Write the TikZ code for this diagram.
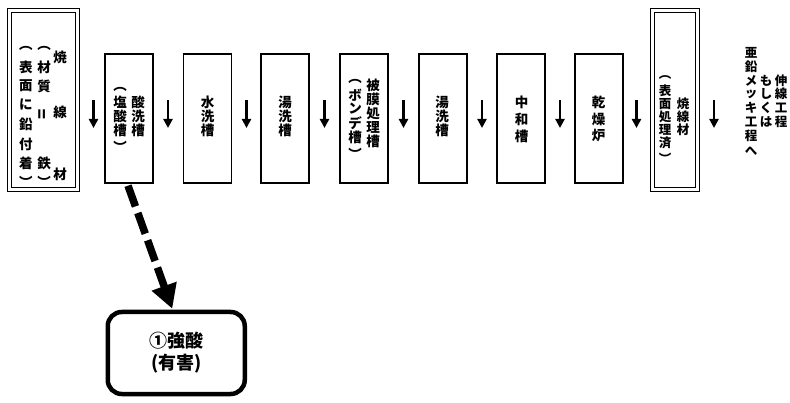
\documentclass[tikz,border=0pt]{standalone}
\usepackage{fontspec}
\setmainfont{Noto Sans CJK JP}
\usetikzlibrary{arrows.meta,calc}
\tikzset{
  ch/.style={inner sep=0pt, font=\bfseries\fontsize{13.5}{13.5}\selectfont},
  chs/.style={inner sep=0pt, font=\bfseries\fontsize{12.5}{12.5}\selectfont},
  tank/.style={draw, line width=1.4pt, minimum width=48pt, minimum height=129pt, inner sep=0pt},
  endbox/.style={draw, double, double distance=2.4pt, line width=1.2pt, inner sep=0pt},
  downarr/.style={line width=2.6pt, -{Triangle[width=9pt,length=9pt]}},
  bigarr/.style={line width=7.5pt, dash pattern=on 22pt off 7pt, -{Triangle[width=25pt,length=24pt]}},
  harmbox/.style={draw, line width=4.5pt, rounded corners=14pt, minimum width=137pt, minimum height=82pt,
    align=center, font=\bfseries\fontsize{18}{22}\selectfont},
}
\newcommand{\vcol}[4][ch]{\foreach \c/\yy [count=\i] in {#4} {\node[#1] (#2\i) at (#3,\yy) {\c};}}
\begin{document}
\begin{tikzpicture}[x=1pt,y=-1pt]
\useasboundingbox (0,0) rectangle (790,403);
% start box
\node[endbox, minimum width=68pt, minimum height=179pt] (start) at (43.5,100) {};
\vcol{sa}{26}{︵/48,表/67,面/86,に/105,鉛/124,付/144,着/163,︶/182}
\vcol{sb}{44}{︵/48,材/67,質/86,鉄/163,︶/182}
\node[ch, rotate=90, font=\bfseries\fontsize{17}{17}\selectfont] (sbeq) at (44,114) {=};
\vcol{sc}{60}{焼/57,線/112,材/174}
% tanks
\node[tank] (acid) at (129,118.5) {};
\vcol{aa}{120}{︵/89,塩/102,酸/116,槽/130,︶/147}
\vcol{ab}{138}{酸/102,洗/116,槽/130}
\node[tank] (water) at (207.5,118.5) {};
\vcol{wa}{207.5}{水/102,洗/116,槽/130}
\node[tank] (hot1) at (285,118.5) {};
\vcol{ha}{285}{湯/102,洗/116,槽/130}
\node[tank] (coat) at (364,118.5) {};
\vcol{ca}{355}{︵/81,ボ/95,ン/109,デ/123,槽/137,︶/154}
\vcol{cb}{373}{被/85,膜/99,処/113,理/127,槽/141}
\node[tank] (hot2) at (443,118.5) {};
\vcol{hb}{442}{湯/102,洗/116,槽/130}
\node[tank] (neut) at (521,118.5) {};
\vcol{na}{521.5}{中/102,和/119,槽/136}
\node[tank] (dry) at (599,118.5) {};
\vcol{da}{598.5}{乾/102,燥/119,炉/136}
% end box
\node[endbox, minimum width=45pt, minimum height=179pt] (fin) at (675,100) {};
\vcol[chs]{fa}{665}{︵/78,表/91,面/104,処/117,理/130,済/143,︶/158}
\vcol[chs]{fb}{683}{焼/104,線/117,材/130}
% right texts
\vcol[chs]{ra}{751}{亜/53,鉛/67,メ/81,ッ/94,キ/108,工/122,程/136,へ/151}
\vcol[chs]{rb}{766}{も/81,し/94,く/108,は/122}
\vcol[chs]{rc}{781}{伸/81,線/94,工/108,程/122}
% down arrows
\foreach \xx [count=\k] in {93.5,168,246.5,324.5,403.5,482,560,636.5,714} {
  \coordinate (u\k) at (\xx,100);
  \coordinate (v\k) at (\xx,128);
  \draw[downarr] (u\k) -- (v\k);
}
% harm box
\node[harmbox] (harm) at (176.25,353) {①強酸\\(有害)};
\draw[bigarr] ($(acid.south)+(-1,2)$) -- ($(harm.north)+(-4,-1)$);
\end{tikzpicture}
\end{document}
